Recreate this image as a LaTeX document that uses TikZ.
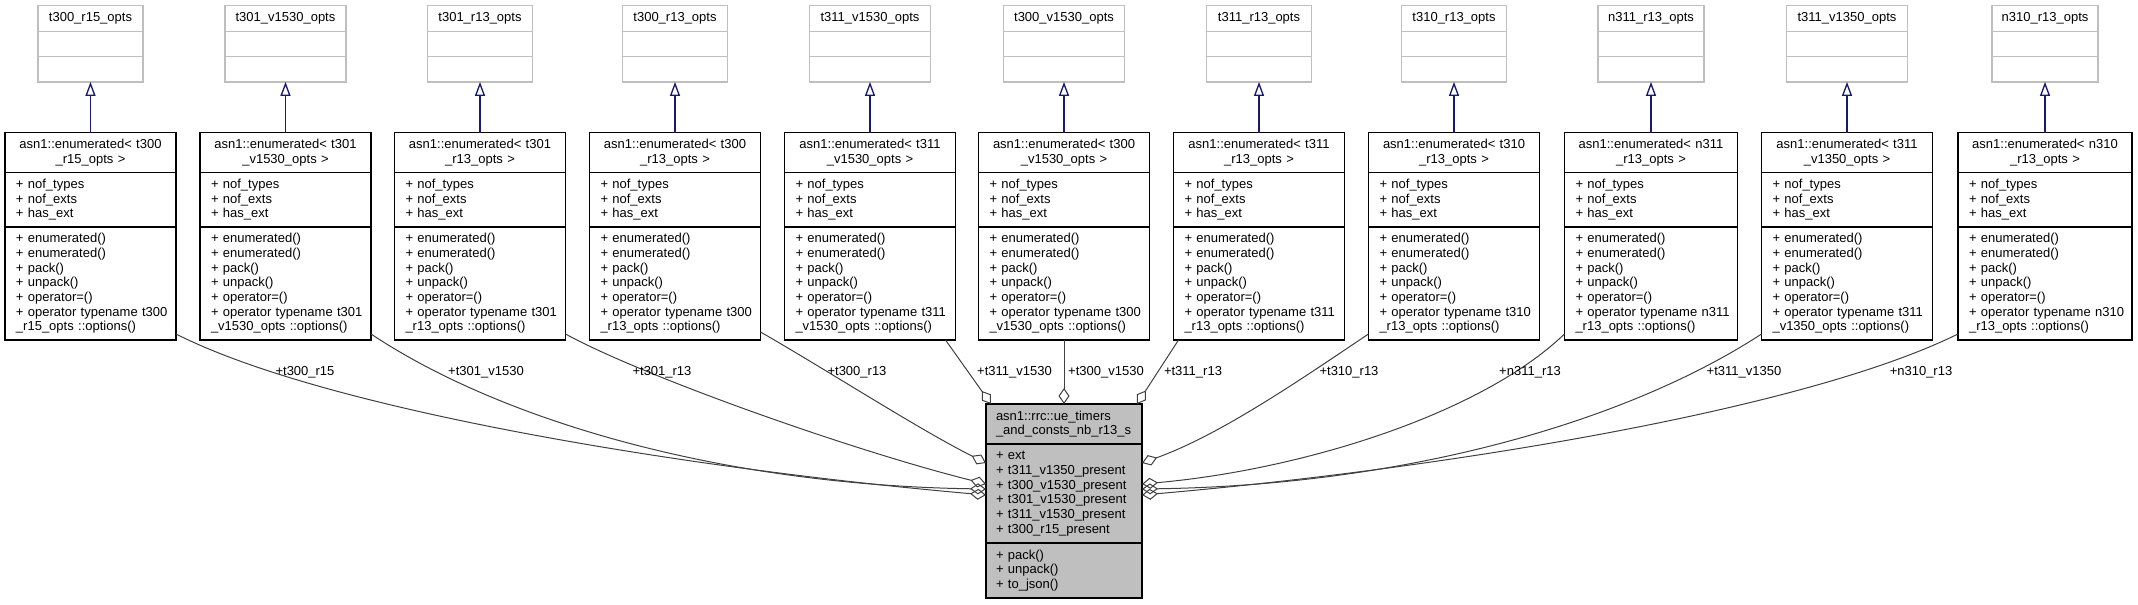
\documentclass[tikz,border=0pt]{standalone}
\usepackage{fontspec}
\setmainfont{Liberation Sans}
\usetikzlibrary{arrows.meta,calc}

\begin{document}
\begin{tikzpicture}[x=0.75pt,y=-0.75pt,
    every node/.style={font=\fontsize{9.75}{11}\selectfont, outer sep=0pt, inner ysep=1pt},
    optshead/.style={draw=\BOXGRAY, line width=1pt, anchor=north, minimum height=19.5pt},
    optsbody/.style={draw=\BOXGRAY, line width=1pt, anchor=north, minimum height=18.9pt},
    classhead/.style={draw=black, line width=1pt, anchor=north, align=center, inner xsep=8.25pt},
    classbody/.style={draw=black, line width=1pt, anchor=north, align=left, inner xsep=8.25pt},
    inherit/.style={draw=\ARROWBLUE, line width=1pt, -{Triangle[open, length=10.5pt, width=7.5pt]}},
    member/.style={draw=\LINECOLOR, line width=0.75pt, -{Diamond[open, length=12pt, width=8.25pt]}},
    lbl/.style={inner sep=0pt}]

\def\BOXGRAY{black!25}
\def\MAINGRAY{black!25}
\def\LINECOLOR{black!75}
\definecolor{edgeblue}{RGB}{25,25,112}
\def\ARROWBLUE{edgeblue}

\def\optsbox#1#2#3#4{%
    \node[optshead, minimum width=#3*0.75pt] (#1) at (#2,5.5) {#4};
    \node[optsbody, minimum width=#3*0.75pt] (#1-a) at (#1.south) {};
    \node[optsbody, minimum width=#3*0.75pt] (#1-b) at (#1-a.south) {};
}
\def\tplbox#1#2#3#4#5{%
    \pgfmathsetmacro\TW{(#3-22)*0.75}%
    \node[classhead, minimum width=#3*0.75pt, minimum height=30.15pt, text width=\TW pt] (#1) at (#2,132.5) {\mbox{asn1::enumerated< #4}\\#5\_opts >};
    \node[classbody, minimum width=#3*0.75pt, minimum height=40.7pt, text width=\TW pt] (#1-a) at (#1.south) {+ nof\_types\\+ nof\_exts\\+ has\_ext};
    \node[classbody, minimum width=#3*0.75pt, minimum height=84.75pt, text width=\TW pt] (#1-m) at (#1-a.south) {+ enumerated()\\+ enumerated()\\+ pack()\\+ unpack()\\+ operator=()\\\mbox{+ operator typename #4}\\#5\_opts ::options()};
}

\useasboundingbox (0,0) rectangle (2138,604);

\optsbox{o1}{90.5}{105}{t300\_r15\_opts}
\optsbox{o2}{285.5}{121}{t301\_v1530\_opts}
\optsbox{o3}{480}{105}{t301\_r13\_opts}
\optsbox{o4}{675}{105}{t300\_r13\_opts}
\optsbox{o5}{870}{121}{t311\_v1530\_opts}
\optsbox{o6}{1064}{121}{t300\_v1530\_opts}
\optsbox{o7}{1259}{105}{t311\_r13\_opts}
\optsbox{o8}{1454}{105}{t310\_r13\_opts}
\optsbox{o9}{1651}{106}{n311\_r13\_opts}
\optsbox{o10}{1847}{121}{t311\_v1350\_opts}
\optsbox{o11}{2045}{106}{n310\_r13\_opts}

\tplbox{t1}{90.5}{171}{t300}{\_r15}
\tplbox{t2}{285.5}{171}{t301}{\_v1530}
\tplbox{t3}{480}{171}{t301}{\_r13}
\tplbox{t4}{675}{171}{t300}{\_r13}
\tplbox{t5}{870}{171}{t311}{\_v1530}
\tplbox{t6}{1064}{171}{t300}{\_v1530}
\tplbox{t7}{1259}{171}{t311}{\_r13}
\tplbox{t8}{1454}{171}{t310}{\_r13}
\tplbox{t9}{1651}{173}{n311}{\_r13}
\tplbox{t10}{1847}{171}{t311}{\_v1350}
\tplbox{t11}{2045}{174}{n310}{\_r13}

\node[classhead, fill=\MAINGRAY, align=left, inner xsep=7.5pt, minimum width=117pt, minimum height=30pt, text width=102pt] (main) at (1064,404) {asn1::rrc::ue\_timers\\\_and\_consts\_nb\_r13\_s};
\node[classbody, fill=\MAINGRAY, inner xsep=7.5pt, minimum width=117pt, minimum height=74.25pt, text width=102pt] (main-a) at (main.south) {+ ext\\+ t311\_v1350\_present\\+ t300\_v1530\_present\\+ t301\_v1530\_present\\+ t311\_v1530\_present\\+ t300\_r15\_present};
\node[classbody, fill=\MAINGRAY, inner xsep=7.5pt, minimum width=117pt, minimum height=41.25pt, text width=102pt] (main-m) at (main-a.south) {+ pack()\\+ unpack()\\+ to\_json()};

\draw[inherit] (t1.north) -- (o1-b.south);
\draw[inherit] (t2.north) -- (o2-b.south);
\draw[inherit] (t3.north) -- (o3-b.south);
\draw[inherit] (t4.north) -- (o4-b.south);
\draw[inherit] (t5.north) -- (o5-b.south);
\draw[inherit] (t6.north) -- (o6-b.south);
\draw[inherit] (t7.north) -- (o7-b.south);
\draw[inherit] (t8.north) -- (o8-b.south);
\draw[inherit] (t9.north) -- (o9-b.south);
\draw[inherit] (t10.north) -- (o10-b.south);
\draw[inherit] (t11.north) -- (o11-b.south);

\draw[member] ($(t1-m.south east)+(0,-6)$) .. controls (330,412) and (700,470) .. ($(main-a.north west)+(0,51)$);
\draw[member] ($(t2-m.south east)+(0,-6)$) .. controls (500,420) and (720,485) .. ($(main-a.north west)+(0,45)$);
\draw[member] ($(t3-m.south east)+(0,-6)$) .. controls (640,375) and (850,450) .. ($(main-a.north west)+(0,40)$);
\draw[member] ($(t4-m.south east)+(0,-8)$) .. controls (830,372) and (920,430) .. ($(main-a.north west)+(0,19)$);
\draw[member] ($(t5-m.south east)+(-10,0)$) -- ($(main.north west)+(5,0)$);
\draw[member] (t6-m.south) -- (main.north);
\draw[member] ($(t7-m.south west)+(5,0)$) -- ($(main.north east)+(-5,0)$);
\draw[member] ($(t8-m.south west)+(0,-6)$) .. controls (1300,380) and (1220,435) .. ($(main-a.north east)+(0,19)$);
\draw[member] ($(t9-m.south west)+(0,-6)$) .. controls (1480,415) and (1300,470) .. ($(main-a.north east)+(0,40)$);
\draw[member] ($(t10-m.south west)+(0,-6)$) .. controls (1630,420) and (1410,485) .. ($(main-a.north east)+(0,45)$);
\draw[member] ($(t11-m.south west)+(0,-6)$) .. controls (1800,412) and (1430,470) .. ($(main-a.north east)+(0,51)$);

\node[lbl] (lab1) at (305,372) {+t300\_r15};
\node[lbl] (lab2) at (486,372) {+t301\_v1530};
\node[lbl] (lab3) at (662,372) {+t301\_r13};
\node[lbl] (lab4) at (857,372) {+t300\_r13};
\node[lbl] (lab5) at (1014.5,372) {+t311\_v1530};
\node[lbl] (lab6) at (1106,372) {+t300\_v1530};
\node[lbl] (lab7) at (1193,372) {+t311\_r13};
\node[lbl] (lab8) at (1349,372) {+t310\_r13};
\node[lbl] (lab9) at (1530,372) {+n311\_r13};
\node[lbl] (lab10) at (1744,372) {+t311\_v1350};
\node[lbl] (lab11) at (1921,372) {+n310\_r13};

\end{tikzpicture}
\end{document}
